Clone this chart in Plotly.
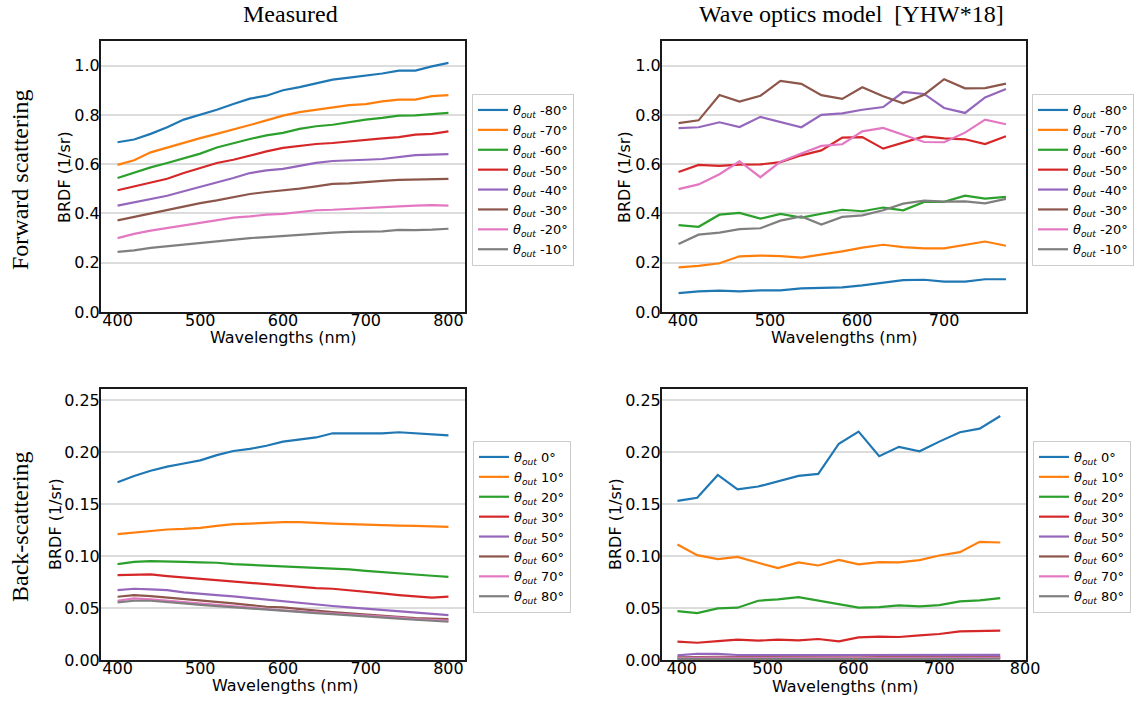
import plotly.graph_objects as go

# ---------------- data ----------------
colors = ["#1f77b4", "#ff7f0e", "#2ca02c", "#d62728", "#9467bd", "#8c564b", "#e377c2", "#7f7f7f"]

fwd_angles = ["-80°", "-70°", "-60°", "-50°", "-40°", "-30°", "-20°", "-10°"]
back_angles = ["0°", "10°", "20°", "30°", "50°", "60°", "70°", "80°"]
x_ticks = [400, 500, 600, 700, 800]

meas_wl = [400, 420, 440, 460, 480, 500, 520, 540, 560, 580, 600, 620, 640, 660, 680, 700, 720, 740, 760, 780, 800]

meas_fwd_m80 = [0.689, 0.700, 0.723, 0.750, 0.781, 0.800, 0.821, 0.844, 0.866, 0.878, 0.900, 0.913, 0.927, 0.943, 0.951, 0.959, 0.968, 0.980, 0.980, 0.997, 1.011]
meas_fwd_m70 = [0.597, 0.616, 0.648, 0.668, 0.689, 0.706, 0.723, 0.740, 0.759, 0.778, 0.797, 0.811, 0.821, 0.832, 0.840, 0.844, 0.855, 0.862, 0.862, 0.876, 0.880]
meas_fwd_m60 = [0.544, 0.567, 0.587, 0.605, 0.625, 0.643, 0.668, 0.686, 0.702, 0.717, 0.727, 0.743, 0.754, 0.760, 0.771, 0.781, 0.788, 0.797, 0.798, 0.802, 0.808]
meas_fwd_m50 = [0.494, 0.510, 0.528, 0.541, 0.564, 0.585, 0.605, 0.618, 0.636, 0.652, 0.666, 0.675, 0.682, 0.686, 0.693, 0.700, 0.705, 0.710, 0.720, 0.723, 0.733]
meas_fwd_m40 = [0.432, 0.445, 0.459, 0.472, 0.490, 0.507, 0.526, 0.544, 0.564, 0.575, 0.581, 0.594, 0.605, 0.613, 0.617, 0.618, 0.621, 0.629, 0.637, 0.639, 0.641]
meas_fwd_m30 = [0.372, 0.386, 0.402, 0.413, 0.429, 0.442, 0.453, 0.466, 0.479, 0.487, 0.493, 0.501, 0.510, 0.520, 0.522, 0.528, 0.532, 0.536, 0.537, 0.537, 0.540]
meas_fwd_m20 = [0.300, 0.317, 0.330, 0.341, 0.352, 0.364, 0.375, 0.383, 0.388, 0.395, 0.398, 0.406, 0.413, 0.415, 0.419, 0.424, 0.426, 0.429, 0.432, 0.434, 0.432]
meas_fwd_m10 = [0.244, 0.250, 0.260, 0.267, 0.273, 0.281, 0.288, 0.294, 0.300, 0.304, 0.309, 0.314, 0.318, 0.322, 0.325, 0.325, 0.327, 0.333, 0.332, 0.334, 0.338]

meas_back_0 = [0.171, 0.177, 0.182, 0.186, 0.189, 0.192, 0.197, 0.201, 0.203, 0.206, 0.210, 0.212, 0.214, 0.218, 0.218, 0.218, 0.218, 0.219, 0.218, 0.217, 0.216]
meas_back_10 = [0.121, 0.1226, 0.124, 0.1255, 0.126, 0.127, 0.129, 0.1306, 0.1312, 0.1319, 0.1325, 0.1325, 0.1322, 0.1312, 0.1306, 0.130, 0.1293, 0.1293, 0.129, 0.1287, 0.128]
meas_back_20 = [0.0922, 0.0944, 0.095, 0.095, 0.0944, 0.0938, 0.0935, 0.0922, 0.0915, 0.0909, 0.0903, 0.0896, 0.0883, 0.0877, 0.0871, 0.0858, 0.0845, 0.0829, 0.082, 0.081, 0.080]
meas_back_30 = [0.0816, 0.0816, 0.0823, 0.0807, 0.0794, 0.0781, 0.0768, 0.0755, 0.0743, 0.073, 0.0717, 0.0704, 0.0691, 0.0685, 0.0672, 0.0656, 0.064, 0.0624, 0.0608, 0.0599, 0.061]
meas_back_50 = [0.0672, 0.0685, 0.0679, 0.0672, 0.065, 0.0634, 0.0624, 0.0611, 0.0595, 0.0579, 0.0567, 0.0551, 0.0535, 0.0519, 0.0506, 0.0493, 0.048, 0.0464, 0.0455, 0.0445, 0.0432]
meas_back_60 = [0.0608, 0.0624, 0.0615, 0.0602, 0.0589, 0.0576, 0.0563, 0.0544, 0.0528, 0.0512, 0.0506, 0.0487, 0.0474, 0.0461, 0.0448, 0.0439, 0.0426, 0.0413, 0.0403, 0.0397, 0.0394]
meas_back_70 = [0.057, 0.0592, 0.0583, 0.057, 0.0554, 0.0538, 0.0525, 0.0512, 0.0503, 0.049, 0.0477, 0.0467, 0.0458, 0.0448, 0.0435, 0.0426, 0.0416, 0.0407, 0.0394, 0.0387, 0.0378]
meas_back_80 = [0.0554, 0.057, 0.057, 0.056, 0.0544, 0.0531, 0.0519, 0.0506, 0.0493, 0.048, 0.047, 0.0461, 0.0451, 0.0442, 0.0429, 0.0419, 0.0407, 0.0397, 0.0387, 0.0378, 0.0368]

model_wl = [395, 418, 442, 465, 489, 512, 536, 559, 583, 606, 630, 653, 677, 700, 724, 747, 771]

model_fwd_m80 = [0.077, 0.084, 0.087, 0.084, 0.088, 0.088, 0.096, 0.097, 0.100, 0.108, 0.119, 0.129, 0.131, 0.123, 0.123, 0.133, 0.133]
model_fwd_m70 = [0.181, 0.187, 0.198, 0.226, 0.229, 0.227, 0.221, 0.233, 0.246, 0.261, 0.273, 0.263, 0.258, 0.258, 0.273, 0.286, 0.269]
model_fwd_m60 = [0.353, 0.346, 0.395, 0.402, 0.379, 0.398, 0.383, 0.398, 0.415, 0.409, 0.424, 0.413, 0.447, 0.447, 0.472, 0.460, 0.467]
model_fwd_m50 = [0.568, 0.597, 0.593, 0.598, 0.599, 0.608, 0.636, 0.656, 0.708, 0.710, 0.663, 0.686, 0.713, 0.705, 0.701, 0.682, 0.713]
model_fwd_m40 = [0.746, 0.750, 0.770, 0.751, 0.792, 0.770, 0.750, 0.800, 0.806, 0.821, 0.832, 0.893, 0.885, 0.828, 0.808, 0.871, 0.905]
model_fwd_m30 = [0.767, 0.778, 0.881, 0.854, 0.878, 0.938, 0.926, 0.880, 0.865, 0.912, 0.876, 0.847, 0.882, 0.945, 0.908, 0.909, 0.927]
model_fwd_m20 = [0.499, 0.518, 0.559, 0.612, 0.547, 0.610, 0.643, 0.674, 0.681, 0.733, 0.747, 0.719, 0.690, 0.689, 0.728, 0.781, 0.762]
model_fwd_m10 = [0.276, 0.314, 0.322, 0.336, 0.340, 0.371, 0.388, 0.355, 0.386, 0.392, 0.413, 0.440, 0.452, 0.448, 0.449, 0.441, 0.459]

model_back_0 = [0.153, 0.156, 0.178, 0.164, 0.1668, 0.172, 0.177, 0.179, 0.208, 0.2196, 0.196, 0.205, 0.2007, 0.210, 0.219, 0.2225, 0.2346]
model_back_10 = [0.111, 0.1008, 0.097, 0.0992, 0.0935, 0.0883, 0.0938, 0.0909, 0.0963, 0.0919, 0.0941, 0.0938, 0.096, 0.1005, 0.1037, 0.1136, 0.113]
model_back_20 = [0.047, 0.0451, 0.0496, 0.0503, 0.057, 0.0583, 0.0605, 0.057, 0.0538, 0.0503, 0.0509, 0.0525, 0.0515, 0.0528, 0.0563, 0.0573, 0.0595]
model_back_30 = [0.0176, 0.0166, 0.0182, 0.0195, 0.0186, 0.0195, 0.0189, 0.0202, 0.0179, 0.0218, 0.0224, 0.0221, 0.0237, 0.025, 0.0275, 0.0275, 0.0282]
model_back_50 = [0.0045, 0.006, 0.0058, 0.0048, 0.0048, 0.005, 0.005, 0.0048, 0.0048, 0.0048, 0.005, 0.005, 0.005, 0.005, 0.0053, 0.005, 0.005]
model_back_60 = [0.0025, 0.003, 0.003, 0.0027, 0.0026, 0.0027, 0.0027, 0.0026, 0.0026, 0.0026, 0.0027, 0.0027, 0.0027, 0.0027, 0.0029, 0.0028, 0.0028]
model_back_70 = [0.0018, 0.0022, 0.0022, 0.002, 0.0019, 0.002, 0.002, 0.0019, 0.0019, 0.0019, 0.002, 0.002, 0.002, 0.002, 0.0021, 0.0021, 0.0021]
model_back_80 = [0.001, 0.0012, 0.0012, 0.0011, 0.001, 0.0011, 0.0011, 0.001, 0.001, 0.001, 0.0011, 0.0011, 0.0011, 0.0011, 0.0012, 0.0012, 0.0012]

meas_fwd = [meas_fwd_m80, meas_fwd_m70, meas_fwd_m60, meas_fwd_m50, meas_fwd_m40, meas_fwd_m30, meas_fwd_m20, meas_fwd_m10]
meas_back = [meas_back_0, meas_back_10, meas_back_20, meas_back_30, meas_back_50, meas_back_60, meas_back_70, meas_back_80]
model_fwd = [model_fwd_m80, model_fwd_m70, model_fwd_m60, model_fwd_m50, model_fwd_m40, model_fwd_m30, model_fwd_m20, model_fwd_m10]
model_back = [model_back_0, model_back_10, model_back_20, model_back_30, model_back_50, model_back_60, model_back_70, model_back_80]

# ---------------- figure ----------------
W, H = 1134, 702
fig = go.Figure()

panels = [
    ("x", "y", "legend", meas_wl, meas_fwd, fwd_angles),
    ("x2", "y2", "legend2", model_wl, model_fwd, fwd_angles),
    ("x3", "y3", "legend3", meas_wl, meas_back, back_angles),
    ("x4", "y4", "legend4", model_wl, model_back, back_angles),
]
for xa, ya, lg, wl, series, angles in panels:
    for i, (vals, ang) in enumerate(zip(series, angles)):
        fig.add_trace(go.Scatter(
            x=wl, y=vals, mode="lines", xaxis=xa, yaxis=ya, legend=lg,
            line=dict(color=colors[i], width=2.2),
            name="<i>θ</i><sub><i>out</i></sub> " + ang,
        ))

def px_x(p):
    return p / W

def px_y(p):
    return 1 - p / H

tick_font = dict(family="DejaVu Sans", size=16, color="#000")
title_font = dict(family="DejaVu Sans", size=16, color="#000")

def xaxis(dom, rng, anchor):
    return dict(domain=dom, range=rng, anchor=anchor, tickmode="array",
                tickvals=x_ticks, showgrid=False, zeroline=False,
                showline=True, mirror=True, linecolor="#1a1a1a", linewidth=2,
                ticks="", ticklabelstandoff=-7,
                tickfont=tick_font, automargin=False)

def yaxis(dom, rng, anchor, dt, fmt):
    return dict(domain=dom, range=rng, anchor=anchor, dtick=dt, tick0=0, tickformat=fmt,
                showgrid=True, gridcolor="#dcdcdc", gridwidth=1.5, zeroline=False,
                showline=True, mirror=True, linecolor="#1a1a1a", linewidth=2,
                ticks="", ticklabelstandoff=-4,
                tickfont=tick_font, automargin=False)

xl = [px_x(101), px_x(465)]
xr = [px_x(662), px_x(1026)]
yt = [px_y(312), px_y(41)]
yb = [px_y(660), px_y(389)]

def legend_at(xpx, ypx):
    return dict(x=px_x(xpx), y=px_y(ypx), xanchor="left", yanchor="top",
                xref="paper", yref="paper",
                bgcolor="white", bordercolor="#cccccc", borderwidth=1,
                font=dict(family="DejaVu Sans", size=13, color="#000"),
                tracegroupgap=0, itemwidth=30)

fig.update_layout(
    width=W, height=H,
    margin=dict(l=0, r=0, t=0, b=0),
    paper_bgcolor="white", plot_bgcolor="white",
    showlegend=True,
    xaxis=xaxis(xl, [380, 820], "y"),
    yaxis=yaxis(yt, [0, 1.1], "x", 0.2, ".1f"),
    xaxis2=xaxis(xr, [376, 794], "y2"),
    yaxis2=yaxis(yt, [0, 1.1], "x2", 0.2, ".1f"),
    xaxis3=xaxis(xl, [380, 820], "y3"),
    yaxis3=yaxis(yb, [0, 0.2606], "x3", 0.05, ".2f"),
    xaxis4=xaxis(xr, [377, 801], "y4"),
    yaxis4=yaxis(yb, [0, 0.2606], "x4", 0.05, ".2f"),
    legend=legend_at(472, 94),
    legend2=legend_at(1032, 94),
    legend3=legend_at(473, 441),
    legend4=legend_at(1033, 441),
)

def note(text, x, y, font, angle=0):
    fig.add_annotation(text=text, x=px_x(x), y=px_y(y), xref="paper", yref="paper",
                       showarrow=False, font=font, textangle=angle,
                       xanchor="center", yanchor="middle")

serif = dict(family="Liberation Serif, Times New Roman, serif", size=24, color="#000")
note("Measured", 290, 14, serif)
note("Wave optics model  [YHW*18]", 851, 14, serif)
note("Forward scattering", 20, 180, serif, -90)
note("Back-scattering", 20, 527, serif, -90)

# axis titles
note("Wavelengths (nm)", 283, 338, title_font)
note("Wavelengths (nm)", 844, 338, title_font)
note("Wavelengths (nm)", 285, 685, title_font)
note("Wavelengths (nm)", 845, 686, title_font)
note("BRDF (1/sr)", 64, 177, title_font, -90)
note("BRDF (1/sr)", 624, 177, title_font, -90)
note("BRDF (1/sr)", 55, 524, title_font, -90)
note("BRDF (1/sr)", 615, 524, title_font, -90)

fig.write_html("out.html")
